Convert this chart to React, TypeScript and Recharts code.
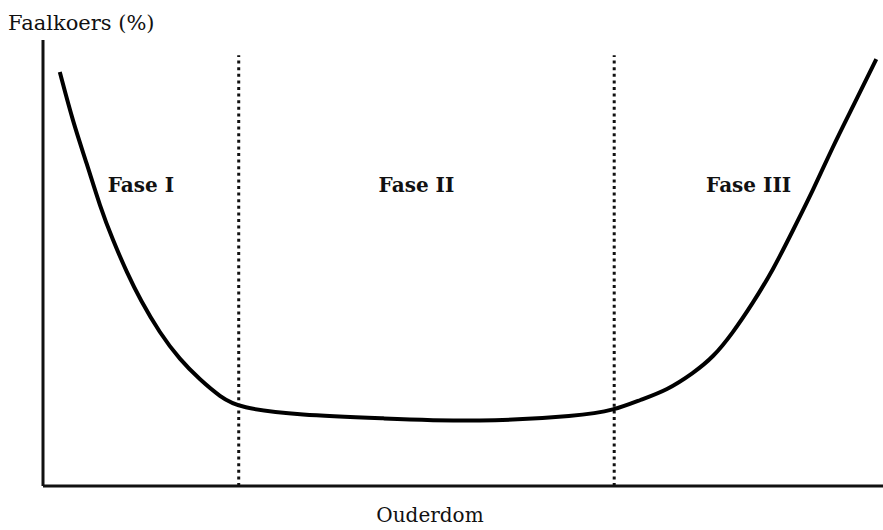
import { Label, Line, LineChart, ReferenceArea, ReferenceLine, XAxis, YAxis } from "recharts";

// Bathtub curve (age and failure rate on a 0–100 scale)
const AGE = [
  2.0, 3.6, 5.2, 6.8, 8.3, 10.0, 11.6, 13.9, 16.3, 18.7, 21.1, 23.3,
  30.6, 40.1, 52.0, 63.9, 68.0,
  71.1, 74.3, 77.4, 79.8, 82.1, 84.5, 86.9, 89.3, 91.7, 94.0, 96.4, 99.2,
];
const FAILURE_RATE = [
  92.8, 81.4, 72.4, 62.6, 55.2, 47.8, 41.7, 34.3, 28.3, 23.8, 20.0, 17.5,
  15.9, 15.2, 14.3, 15.7, 17.0,
  19.3, 21.5, 25.3, 28.9, 34.3, 41.0, 48.4, 57.4, 66.4, 76.0, 85.0, 95.7,
];

const PHASE_BOUNDS = [0, 23.3, 68.0, 100];
const PHASE_LABELS = ["Fase I", "Fase II", "Fase III"];
const DIVIDER_TOP = 96.6;

const FONT = "'DejaVu Serif', serif";

export default function App() {
  const rows = AGE.map((age, i) => ({ age, rate: FAILURE_RATE[i] }));
  const dividers = PHASE_BOUNDS.slice(1, -1);

  return (
    <div style={{ position: "absolute", left: 0, top: 0, width: 883, height: 530, background: "#fff" }}>
      <LineChart width={883} height={530} data={rows} margin={{ top: 40, right: 0, bottom: 0, left: 0 }}>
        <XAxis
          dataKey="age"
          type="number"
          domain={[0, 100]}
          height={44}
          tick={false}
          tickLine={false}
          axisLine={{ stroke: "#111", strokeWidth: 3 }}
        />
        <YAxis
          type="number"
          domain={[0, 100]}
          width={43}
          tick={false}
          tickLine={false}
          axisLine={{ stroke: "#111", strokeWidth: 3 }}
        />
        {PHASE_LABELS.map((name, i) => (
          <ReferenceArea
            key={name}
            x1={PHASE_BOUNDS[i]}
            x2={PHASE_BOUNDS[i + 1]}
            y1={55}
            y2={80}
            fill="none"
            stroke="none"
          >
            <Label
              value={name}
              position="center"
              dx={i === 1 ? -10 : 0}
              style={{ fontFamily: FONT, fontSize: 20, fontWeight: 700, fill: "#111" }}
            />
          </ReferenceArea>
        ))}
        {dividers.map((x) => (
          <ReferenceLine
            key={x}
            segment={[
              { x, y: 0 },
              { x, y: DIVIDER_TOP },
            ]}
            stroke="#111"
            strokeWidth={3}
            strokeDasharray="3 3.6"
          />
        ))}
        <Line
          type="basis"
          dataKey="rate"
          stroke="#000"
          strokeWidth={4}
          dot={false}
          activeDot={false}
          isAnimationActive={false}
        />
        <text x={8} y={30} fontFamily={FONT} fontSize={21} fill="#111">
          Faalkoers (%)
        </text>
        <text x={430} y={522} textAnchor="middle" fontFamily={FONT} fontSize={20} fill="#111">
          Ouderdom
        </text>
      </LineChart>
    </div>
  );
}
